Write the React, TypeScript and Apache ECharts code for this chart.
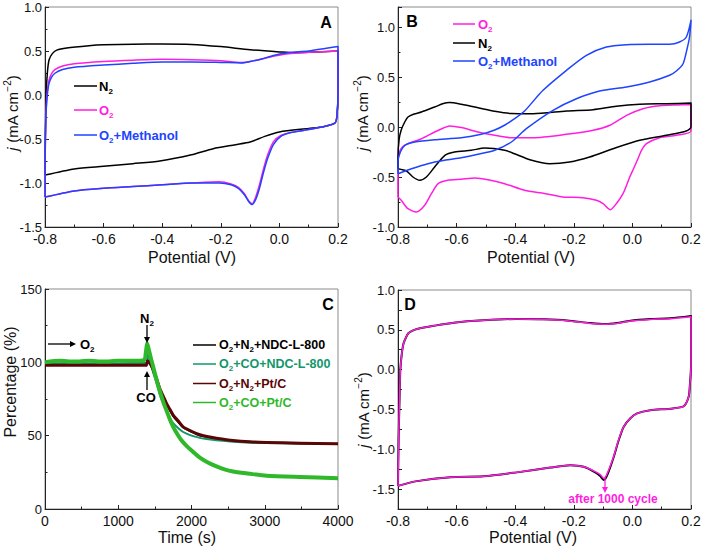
import React, { useEffect, useRef } from 'react';
import * as echarts from 'echarts';

const FF = '"Liberation Sans", Arial, Helvetica, sans-serif';
const MAG = '#ff1ee0';
const BLUE = '#1e44ff';

// ---------- Panel A (CV, potential V vs j mA cm-2) ----------
const aN2V = [-0.8, -0.799, -0.796, -0.792, -0.786, -0.775, -0.76, -0.726, -0.65, -0.6, -0.5, -0.4, -0.3, -0.2, -0.1, 0.0, 0.05, 0.1, 0.2, 0.2, 0.196, 0.189, 0.15, 0.1, 0.0, -0.05, -0.1, -0.15, -0.226, -0.3, -0.408, -0.5, -0.6, -0.7, -0.8];
const aN2J = [-0.91, -0.5, 0.0, 0.25, 0.4, 0.47, 0.51, 0.535, 0.56, 0.57, 0.578, 0.58, 0.575, 0.55, 0.515, 0.49, 0.48, 0.485, 0.5, 0.0, -0.25, -0.32, -0.36, -0.38, -0.42, -0.47, -0.535, -0.565, -0.61, -0.68, -0.75, -0.78, -0.81, -0.84, -0.91];
const aO2V = [-0.8, -0.799, -0.796, -0.792, -0.787, -0.778, -0.765, -0.74, -0.7, -0.6, -0.5, -0.4, -0.3, -0.2, -0.13, -0.1, -0.06, -0.02, 0.03, 0.1, 0.2, 0.2, 0.196, 0.189, 0.15, 0.069, 0.035, 0.005, -0.02, -0.04, -0.055, -0.068, -0.08, -0.093, -0.105, -0.12, -0.14, -0.165, -0.205, -0.3, -0.4, -0.5, -0.6, -0.7, -0.8];
const aO2J = [-1.16, -0.6, -0.15, 0.05, 0.16, 0.24, 0.29, 0.33, 0.355, 0.38, 0.395, 0.405, 0.4, 0.39, 0.37, 0.38, 0.41, 0.44, 0.47, 0.485, 0.5, 0.05, -0.25, -0.32, -0.36, -0.41, -0.43, -0.46, -0.53, -0.68, -0.85, -1.02, -1.15, -1.235, -1.2, -1.12, -1.05, -1.01, -0.985, -1.0, -1.02, -1.04, -1.06, -1.09, -1.16];
const aMeV = [-0.8, -0.799, -0.796, -0.792, -0.787, -0.778, -0.765, -0.74, -0.7, -0.6, -0.5, -0.4, -0.3, -0.2, -0.13, -0.1, -0.06, -0.02, 0.03, 0.1, 0.2, 0.2, 0.196, 0.189, 0.15, 0.069, 0.035, 0.005, -0.02, -0.04, -0.055, -0.068, -0.08, -0.093, -0.105, -0.12, -0.14, -0.165, -0.205, -0.3, -0.4, -0.5, -0.6, -0.7, -0.8];
const aMeJ = [-1.16, -0.6, -0.18, 0.0, 0.12, 0.2, 0.25, 0.29, 0.315, 0.34, 0.36, 0.375, 0.375, 0.37, 0.365, 0.38, 0.41, 0.45, 0.48, 0.5, 0.55, 0.05, -0.25, -0.32, -0.36, -0.41, -0.43, -0.47, -0.56, -0.72, -0.89, -1.06, -1.18, -1.245, -1.21, -1.13, -1.06, -1.02, -1.0, -1.0, -1.02, -1.04, -1.06, -1.09, -1.16];

// ---------- Panel B ----------
const bO2V = [-0.8, -0.8, -0.795, -0.785, -0.766, -0.72, -0.675, -0.645, -0.624, -0.584, -0.527, -0.47, -0.413, -0.339, -0.225, -0.134, -0.077, -0.02, 0.036, 0.093, 0.15, 0.2, 0.2, 0.15, 0.093, 0.048, 0.031, 0.02, 0.005, -0.009, -0.032, -0.055, -0.075, -0.1, -0.123, -0.169, -0.237, -0.3, -0.368, -0.436, -0.493, -0.538, -0.584, -0.63, -0.663, -0.686, -0.709, -0.737, -0.766, -0.789, -0.8];
const bO2J = [-0.7, -0.35, -0.25, -0.2, -0.167, -0.117, -0.05, -0.01, 0.01, -0.006, -0.05, -0.083, -0.107, -0.107, -0.073, -0.033, 0.017, 0.117, 0.183, 0.213, 0.22, 0.223, -0.04, -0.083, -0.107, -0.167, -0.233, -0.31, -0.41, -0.5, -0.667, -0.767, -0.827, -0.767, -0.733, -0.707, -0.7, -0.665, -0.633, -0.567, -0.527, -0.51, -0.523, -0.533, -0.567, -0.667, -0.783, -0.85, -0.817, -0.733, -0.7];
const bN2V = [-0.8, -0.8, -0.796, -0.789, -0.777, -0.766, -0.745, -0.72, -0.675, -0.645, -0.624, -0.584, -0.527, -0.47, -0.413, -0.339, -0.225, -0.134, -0.055, 0.025, 0.116, 0.2, 0.2, 0.184, 0.116, 0.025, -0.066, -0.146, -0.214, -0.282, -0.35, -0.4, -0.436, -0.504, -0.55, -0.607, -0.64, -0.675, -0.703, -0.726, -0.749, -0.771, -0.8];
const bN2J = [-0.417, -0.3, -0.12, -0.03, 0.05, 0.1, 0.13, 0.15, 0.2, 0.235, 0.244, 0.227, 0.193, 0.157, 0.135, 0.133, 0.16, 0.173, 0.207, 0.227, 0.233, 0.24, 0.0, -0.04, -0.083, -0.133, -0.217, -0.3, -0.35, -0.367, -0.327, -0.27, -0.233, -0.21, -0.233, -0.25, -0.283, -0.4, -0.5, -0.533, -0.5, -0.44, -0.417];
const bMeV = [-0.8, -0.8, -0.792, -0.777, -0.743, -0.675, -0.584, -0.516, -0.47, -0.435, -0.402, -0.368, -0.305, -0.225, -0.157, -0.089, -0.02, 0.059, 0.127, 0.161, 0.184, 0.2, 0.195, 0.188, 0.173, 0.15, 0.127, 0.059, -0.02, -0.112, -0.191, -0.271, -0.362, -0.413, -0.47, -0.527, -0.584, -0.641, -0.698, -0.754, -0.8];
const bMeJ = [-0.467, -0.35, -0.25, -0.183, -0.15, -0.127, -0.107, -0.073, -0.03, 0.02, 0.083, 0.16, 0.367, 0.567, 0.717, 0.8, 0.823, 0.827, 0.827, 0.85, 0.9, 1.067, 0.9, 0.8, 0.633, 0.56, 0.517, 0.45, 0.4, 0.36, 0.283, 0.167, -0.017, -0.15, -0.233, -0.273, -0.307, -0.333, -0.367, -0.417, -0.467];

// ---------- Panel C (time s vs percentage %) ----------
const cBlackT = [0, 400, 800, 1200, 1380, 1400, 1440, 1477, 1523, 1568, 1614, 1659, 1705, 1750, 1820, 1886, 2000, 2114, 2230, 2341, 2568, 2800, 3023, 3477, 4000];
const cBlackV = [99, 99, 99, 99, 99, 100, 98, 94, 88, 81, 76, 71, 67, 63, 59, 55.5, 52.5, 50, 48.8, 47.8, 46.3, 45.5, 45, 44.6, 44.2];
const cTealT = [0, 400, 800, 1200, 1380, 1400, 1440, 1477, 1523, 1568, 1614, 1659, 1705, 1750, 1820, 1886, 2000, 2114, 2230, 2341, 2568, 2800, 3023, 3477, 4000];
const cTealV = [99, 99.5, 99, 99.5, 99.5, 105, 100, 93, 86, 78, 72, 67, 62, 58.5, 55, 52.5, 50, 48.5, 47.5, 46.8, 45.8, 45.2, 45, 44.6, 44.3];
const cRedT = [0, 400, 800, 1200, 1380, 1400, 1440, 1477, 1523, 1568, 1614, 1659, 1705, 1750, 1820, 1886, 2000, 2114, 2230, 2341, 2568, 2800, 3023, 3477, 4000];
const cRedV = [98, 98, 98, 98, 98, 101, 99, 95, 89, 82, 77, 72, 68, 64, 60, 56, 53, 50.6, 49.3, 48.3, 46.7, 45.8, 45.4, 44.9, 44.5];
const cGreenT = [0, 200, 400, 600, 800, 1000, 1200, 1350, 1380, 1395, 1420, 1450, 1477, 1523, 1570, 1614, 1660, 1705, 1750, 1795, 1860, 1932, 2020, 2114, 2230, 2341, 2450, 2568, 2800, 3023, 3477, 4000];
const cGreenV = [100, 101, 100.5, 101, 100.5, 101, 101, 101.5, 108, 113, 108, 102, 97, 88, 80, 73, 67, 61, 56, 52, 47, 43, 39, 35, 31.5, 29, 27, 25.6, 24, 22.7, 21.8, 21];

// ---------- Panel D ----------
const dV = [-0.8, -0.798, -0.795, -0.792, -0.787, -0.781, -0.772, -0.764, -0.75, -0.735, -0.678, -0.61, -0.508, -0.394, -0.303, -0.223, -0.144, -0.092, -0.053, -0.007, 0.061, 0.129, 0.2, 0.2, 0.196, 0.192, 0.175, 0.129, 0.061, 0.016, -0.007, -0.03, -0.047, -0.064, -0.081, -0.092, -0.098, -0.109, -0.127, -0.166, -0.212, -0.28, -0.394, -0.508, -0.621, -0.735, -0.8];
const dInitJ = [-1.46, -0.9, -0.4, 0.0, 0.2, 0.33, 0.41, 0.46, 0.49, 0.51, 0.55, 0.59, 0.62, 0.636, 0.632, 0.618, 0.585, 0.572, 0.585, 0.615, 0.635, 0.645, 0.675, 0.04, -0.2, -0.34, -0.46, -0.49, -0.51, -0.55, -0.61, -0.72, -0.89, -1.1, -1.28, -1.37, -1.385, -1.34, -1.29, -1.22, -1.2, -1.23, -1.29, -1.34, -1.35, -1.4, -1.46];
const dAfterJ = [-1.46, -0.9, -0.4, 0.0, 0.2, 0.33, 0.41, 0.46, 0.49, 0.51, 0.55, 0.59, 0.62, 0.636, 0.63, 0.615, 0.58, 0.57, 0.58, 0.61, 0.63, 0.64, 0.665, 0.04, -0.2, -0.34, -0.46, -0.49, -0.51, -0.55, -0.61, -0.72, -0.88, -1.09, -1.26, -1.35, -1.365, -1.32, -1.28, -1.22, -1.2, -1.23, -1.29, -1.34, -1.35, -1.4, -1.46];

const zip = (xs: number[], ys: number[]) => xs.map((x, i) => [x, ys[i]]);

const AX = '#222';
function xAxisCfg(gridIndex: number, min: number, max: number, interval: number, fmt: (v: number) => string) {
  return {
    type: 'value', gridIndex, min, max, interval,
    axisLine: { show: true, onZero: false, lineStyle: { color: AX, width: 1 } },
    axisTick: { show: true, inside: true, length: 4, lineStyle: { color: AX } },
    minorTick: { show: true, splitNumber: 2, length: 2.5, lineStyle: { color: AX } },
    splitLine: { show: false }, minorSplitLine: { show: false },
    axisLabel: { fontSize: 14, color: '#111', fontFamily: FF, margin: 5, formatter: fmt },
  };
}
function yAxisCfg(gridIndex: number, min: number, max: number, interval: number, fmt: (v: number) => string, minor = true) {
  return {
    type: 'value', gridIndex, min, max, interval,
    axisLine: { show: true, onZero: false, lineStyle: { color: AX, width: 1 } },
    axisTick: { show: true, inside: true, length: 4, lineStyle: { color: AX } },
    minorTick: { show: minor, splitNumber: 2, length: 2.5, lineStyle: { color: AX } },
    splitLine: { show: false }, minorSplitLine: { show: false },
    axisLabel: { fontSize: 13, color: '#111', fontFamily: FF, margin: 3, formatter: fmt },
  };
}
const f1 = (v: number) => v.toFixed(1);
const f0 = (v: number) => String(Math.round(v));
const fB = (v: number) => (Math.abs(v - 1.2) < 1e-6 ? '' : v.toFixed(1));
const fD = (v: number) => (Math.abs(v * 2 - Math.round(v * 2)) < 1e-6 ? v.toFixed(1) : '');

function line(name: string, data: number[][], gi: number, color: string, width = 1.5, z = 2) {
  return {
    name, type: 'line', xAxisIndex: gi, yAxisIndex: gi, data, showSymbol: false, symbol: 'none',
    smooth: 0.25, lineStyle: { color, width, join: 'round' }, itemStyle: { color }, z, silent: true,
  };
}

const richSub = (size: number, color: string) => ({
  b: { fontSize: size, fontWeight: 'bold', fontFamily: FF, fill: color, color, lineHeight: size + 5 },
  s: { fontSize: Math.round(size * 0.65), fontWeight: 'bold', fontFamily: FF, fill: color, color, lineHeight: Math.round(size * 0.65), verticalAlign: 'bottom' },
});
function labelText(x: number, y: number, text: string, size: number, color: string, align = 'left') {
  return {
    type: 'text', x, y, z: 10,
    style: { text, rich: richSub(size, color), fill: color, fontSize: size, fontWeight: 'bold', fontFamily: FF, align, verticalAlign: 'middle', textAlign: align, textVerticalAlign: 'middle' },
  };
}
function plainText(x: number, y: number, text: string, size: number, color = '#111', weight = 'normal', rotation = 0) {
  return {
    type: 'text', x, y, rotation, z: 10,
    style: { text, fill: color, font: `${weight} ${size}px ${FF}`, align: 'center', verticalAlign: 'middle', textAlign: 'center', textVerticalAlign: 'middle' },
  };
}
function jTitle(x: number, y: number) {
  const size = 15;
  return {
    type: 'text', x, y, rotation: Math.PI / 2, z: 10,
    style: {
      text: '{i|j}{n| (mA cm}{p|−2}{n|)}', align: 'center', verticalAlign: 'middle', textAlign: 'center', textVerticalAlign: 'middle',
      fontSize: size, fontFamily: FF, fill: '#111',
      rich: {
        i: { fontSize: size, fontStyle: 'italic', fontFamily: FF, fill: '#111', color: '#111', lineHeight: size + 5 },
        n: { fontSize: size, fontFamily: FF, fill: '#111', color: '#111', lineHeight: size + 5 },
        p: { fontSize: 10, fontFamily: FF, fill: '#111', color: '#111', lineHeight: 10, verticalAlign: 'top' },
      },
    },
  };
}
function legLine(x1: number, x2: number, y: number, color: string) {
  return { type: 'line', z: 10, shape: { x1, y1: y, x2, y2: y }, style: { stroke: color, lineWidth: 1.5 } };
}
function arrow(x1: number, y1: number, x2: number, y2: number, color: string) {
  const ang = Math.atan2(y2 - y1, x2 - x1);
  const L = 6, W = 3;
  const bx = x2 - L * Math.cos(ang), by = y2 - L * Math.sin(ang);
  const px = -Math.sin(ang) * W, py = Math.cos(ang) * W;
  return [
    { type: 'line', z: 10, shape: { x1, y1, x2: bx, y2: by }, style: { stroke: color, lineWidth: 1.3 } },
    { type: 'polygon', z: 10, shape: { points: [[x2, y2], [bx + px, by + py], [bx - px, by - py]] }, style: { fill: color } },
  ];
}

const gridBase = { show: true, borderColor: '#8a8a8a', borderWidth: 1, backgroundColor: 'transparent', containLabel: false, outerBoundsMode: 'none' };

const option = {
  animation: false,
  backgroundColor: '#ffffff',
  textStyle: { fontFamily: FF },
  grid: [
    { ...gridBase, left: 45, top: 7, width: 293, height: 220 },
    { ...gridBase, left: 398, top: 7, width: 293, height: 220 },
    { ...gridBase, left: 45, top: 289, width: 293, height: 220 },
    { ...gridBase, left: 398, top: 290, width: 293, height: 219 },
  ],
  xAxis: [
    xAxisCfg(0, -0.8, 0.2, 0.2, f1),
    xAxisCfg(1, -0.8, 0.2, 0.2, f1),
    xAxisCfg(2, 0, 4000, 1000, f0),
    xAxisCfg(3, -0.8, 0.2, 0.2, f1),
  ],
  yAxis: [
    yAxisCfg(0, -1.5, 1.0, 0.5, f1),
    yAxisCfg(1, -1.0, 1.2, 0.5, fB),
    yAxisCfg(2, 0, 150, 50, f0),
    yAxisCfg(3, -1.75, 1.0, 0.25, fD, false),
  ],
  series: [
    line('N2', zip(aN2V, aN2J), 0, '#000'),
    line('O2', zip(aO2V, aO2J), 0, MAG),
    line('O2+Methanol', zip(aMeV, aMeJ), 0, BLUE),
    line('B O2', zip(bO2V, bO2J), 1, MAG),
    line('B N2', zip(bN2V, bN2J), 1, '#000'),
    line('B O2+Methanol', zip(bMeV, bMeJ), 1, BLUE),
    line('O2+N2+NDC-L-800', zip(cBlackT, cBlackV), 2, '#000', 1.5),
    line('O2+CO+NDC-L-800', zip(cTealT, cTealV), 2, '#12966a', 2),
    line('O2+N2+Pt/C', zip(cRedT, cRedV), 2, '#5a0606', 3),
    line('O2+CO+Pt/C', zip(cGreenT, cGreenV), 2, '#2fb82a', 4),
    line('initial', zip(dV, dInitJ), 3, '#000', 2),
    line('after 1000 cycle', zip(dV, dAfterJ), 3, MAG, 1.5),
  ],
  graphic: [
    // panel letters
    plainText(326, 22, 'A', 16, '#000', 'bold'),
    plainText(412, 21, 'B', 16, '#000', 'bold'),
    plainText(328, 304, 'C', 16, '#000', 'bold'),
    plainText(410, 304, 'D', 16, '#000', 'bold'),
    // axis titles
    plainText(192, 257, 'Potential (V)', 16),
    plainText(531, 257, 'Potential (V)', 16),
    plainText(187, 537, 'Time (s)', 16),
    plainText(533, 537, 'Potential (V)', 16),
    jTitle(12, 113),
    jTitle(362, 113),
    jTitle(363, 410),
    plainText(10, 382, 'Percentage (%)', 16, '#111', 'normal', Math.PI / 2),
    // legend A
    legLine(74, 97, 86, '#000'), labelText(99, 86, '{b|N}{s|2}', 13, '#000'),
    legLine(74, 97, 110, MAG), labelText(99, 110, '{b|O}{s|2}', 13, MAG),
    legLine(74, 97, 135, BLUE), labelText(99, 135, '{b|O}{s|2}{b|+Methanol}', 13, BLUE),
    // legend B
    legLine(453, 475, 24, MAG), labelText(478, 24, '{b|O}{s|2}', 13, MAG),
    legLine(453, 475, 43, '#000'), labelText(478, 43, '{b|N}{s|2}', 13, '#000'),
    legLine(453, 475, 61, BLUE), labelText(478, 61, '{b|O}{s|2}{b|+Methanol}', 13, BLUE),
    // legend C
    legLine(193, 216, 345, '#000'), labelText(219, 345, '{b|O}{s|2}{b|+N}{s|2}{b|+NDC-L-800}', 12.5, '#000'),
    legLine(193, 216, 364, '#12966a'), labelText(219, 364, '{b|O}{s|2}{b|+CO+NDC-L-800}', 12.5, '#12966a'),
    legLine(193, 216, 383.5, '#5a0606'), labelText(219, 383.5, '{b|O}{s|2}{b|+N}{s|2}{b|+Pt/C}', 12.5, '#5a0606'),
    legLine(193, 216, 402.5, '#2fb82a'), labelText(219, 402.5, '{b|O}{s|2}{b|+CO+Pt/C}', 12.5, '#2fb82a'),
    // C annotations
    ...arrow(48, 344, 76, 344, '#000'),
    labelText(80, 344, '{b|O}{s|2}', 13, '#000'),
    labelText(147, 318, '{b|N}{s|2}', 13, '#000', 'center'),
    ...arrow(147, 325, 147, 343, '#000'),
    labelText(146, 397, '{b|CO}', 13, '#000', 'center'),
    ...arrow(147, 390, 147, 371, '#000'),
    // D annotation
    ...arrow(605, 478, 605, 493, MAG),
    plainText(613, 499, 'after 1000 cycle', 12, MAG, 'bold'),
  ],
};

export default function App() {
  const ref = useRef<HTMLDivElement>(null);
  useEffect(() => {
    const chart = echarts.init(ref.current as HTMLDivElement, null, { renderer: 'svg' });
    chart.setOption(option as any);
    return () => chart.dispose();
  }, []);
  return <div ref={ref} style={{ position: 'absolute', left: 0, top: 0, width: 701, height: 548, background: '#fff' }} />;
}
